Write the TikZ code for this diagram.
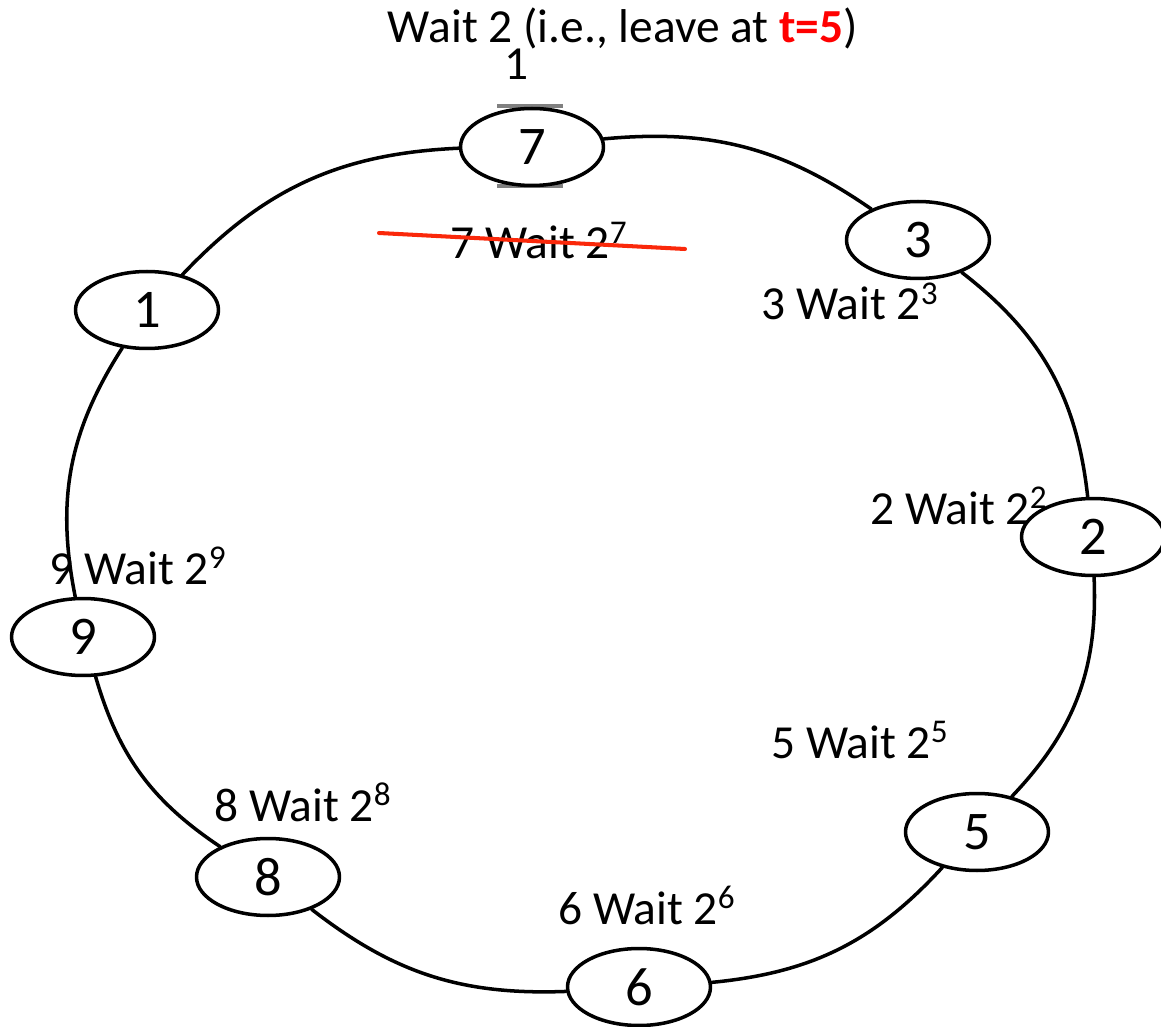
\documentclass[tikz,border=0pt]{standalone}
\usepackage{fontspec}
\setmainfont{Carlito}
\usetikzlibrary{shapes.geometric}
\definecolor{strike}{RGB}{250,40,10}
\begin{document}
\begin{tikzpicture}[x=0.02cm,y=-0.02cm, line join=round, line cap=round,
    peer/.style={draw,ellipse,line width=2pt,fill=white,minimum width=2.86cm,
      minimum height=1.54cm,inner sep=0pt,font=\fontsize{31}{36}\selectfont},
    waitlbl/.style={inner sep=0pt,anchor=base,font=\fontsize{27}{32}\selectfont}]
    \useasboundingbox (0,0) rectangle (1161,1027);
    % grey handles on the top peer
    \fill[gray] (497,104) rectangle (563,108);
    \fill[gray] (497,184) rectangle (563,188);
    % peers on the ring
    \foreach \n/\x/\y in {7/532/147,3/918/240,2/1093/537,5/977/832,
                          6/639/987,8/268/877,9/83/637,1/147/310}
        \node[peer] (p\n) at (\x,\y) {\n};
    \foreach \a/\b/\bnd in {7/3/20,3/2/23,2/5/23,5/6/21,6/8/20,8/9/20,9/1/22,1/7/22}
        \draw[line width=2pt] (p\a) to[bend left=\bnd] (p\b);
    % waiting times
    \node[waitlbl] (title) at (623,43) {Wait 2 (i.e., leave at \textcolor{red}{\textbf{t=5}})};
    \node[waitlbl] (one) at (517,80) {1};
    \foreach \n/\x/\y in {7/539/259,3/850/320,2/959/524,5/860/758,
                          6/647/924,8/303/821,9/138/584}
        \node[waitlbl] (w\n) at (\x,\y) {\n{} Wait 2\textsuperscript{\n}};
    \draw[strike,line width=2.3pt] (379,233) -- (685,249);
\end{tikzpicture}
\end{document}
